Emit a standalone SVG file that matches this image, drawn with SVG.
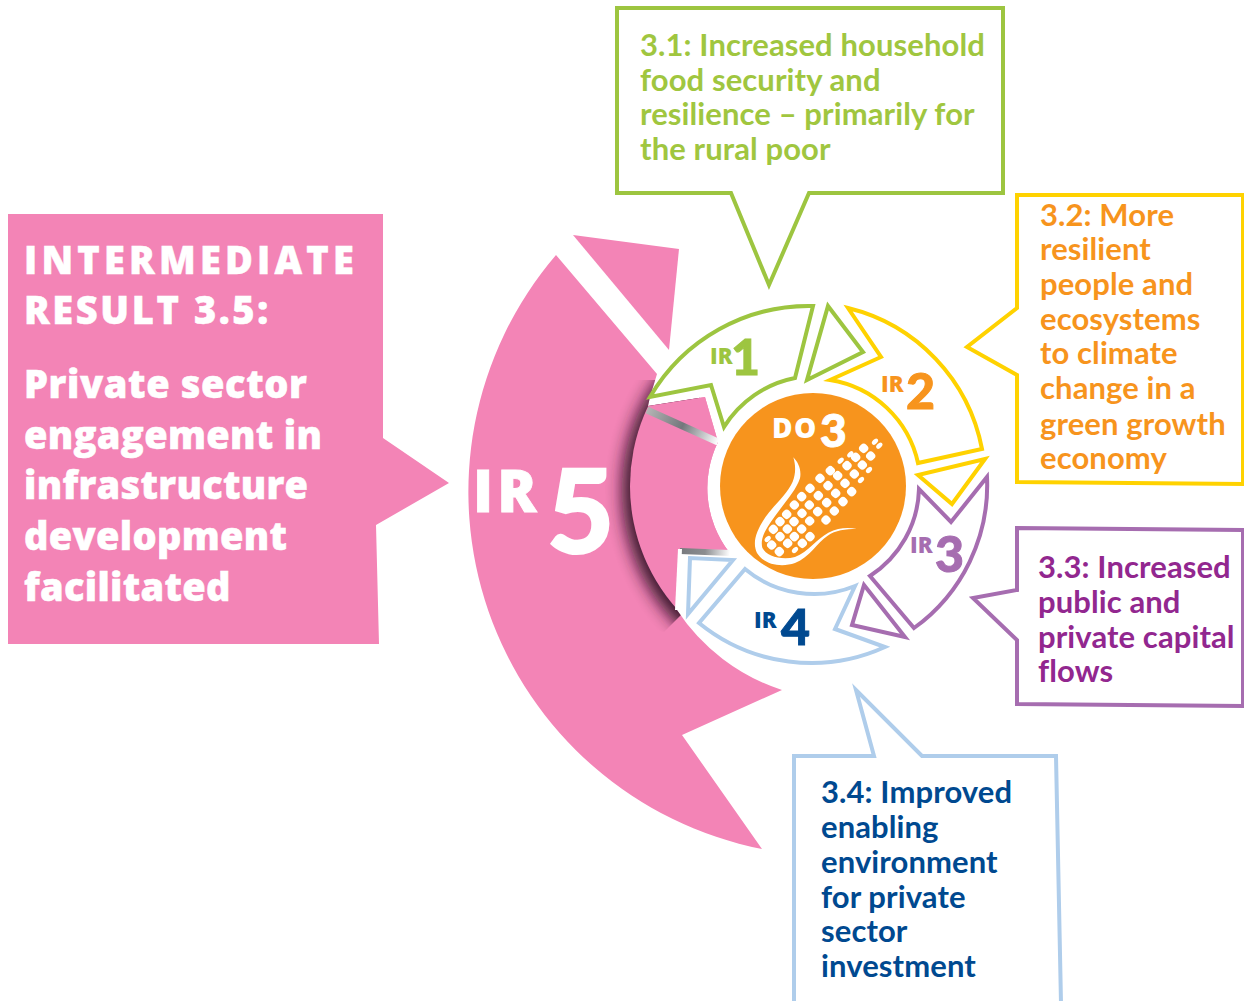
<svg xmlns="http://www.w3.org/2000/svg" width="1244" height="1001" viewBox="0 0 1244 1001">
<style>
.t{font-family:"Lato","Noto Sans",sans-serif;font-weight:700;font-size:31px;letter-spacing:.1px}
.w{font-family:"Open Sans","Noto Sans",sans-serif;font-weight:800;font-size:38px;fill:#fff;stroke:#fff;stroke-width:.5px;letter-spacing:.3px}
.box{fill:#fff;stroke-width:4}
.ring{fill:#fff;stroke-width:4;stroke-linejoin:miter}
.ir{font-family:"Open Sans","Noto Sans",sans-serif;font-weight:800;font-size:22px}
.n{font-family:"Lato","Noto Sans",sans-serif;font-weight:900;font-size:50px;stroke-width:1px}
.gr{stroke:#9DC540}.ye{stroke:#FFD200}.pu{stroke:#A66DB0}.bl{stroke:#AFCDEB}
</style>
<defs>
<path id="sw" d="M556,255 A364,364 0 0 0 762,849 L682,735 L782,690 A200,200 0 0 1 677,610 L680,549 L729,552 A105,105 0 0 1 718,442 L705,397 L648,406 L650,397 L657,374 Z"/>
<clipPath id="swc"><use href="#sw"/></clipPath>
<clipPath id="shc"><path d="M590,380 H700 V600 L682,614 L664,632 L600,620 Z"/></clipPath>
<filter id="bl" x="-20%" y="-20%" width="140%" height="140%"><feGaussianBlur stdDeviation="8"/></filter>
<linearGradient id="g1" gradientUnits="userSpaceOnUse" x1="647" y1="410" x2="718" y2="442"><stop offset="0" stop-color="#b5b5b5"/><stop offset=".5" stop-color="#74777c"/><stop offset="1" stop-color="#fff"/></linearGradient>
<linearGradient id="g2" gradientUnits="userSpaceOnUse" x1="680" y1="550" x2="730" y2="553"><stop offset="0" stop-color="#77797d"/><stop offset=".5" stop-color="#8b8d90"/><stop offset="1" stop-color="#fff"/></linearGradient>
<rect id="k" x="-13" y="-13" width="26" height="26" rx="11" transform="rotate(45)" fill="#fff"/>
<ellipse id="s" rx="11" ry="7" transform="rotate(-45)" fill="#fff"/>
</defs>

<g id="ir5">
<use href="#sw" fill="#F384B6"/>
<path d="M573,235 L679,249 L669,350 Z" fill="#F384B6"/>
<g clip-path="url(#swc)">
<g clip-path="url(#shc)">
<circle cx="813" cy="490" r="191" fill="#2a0c20" opacity=".9" filter="url(#bl)"/>
</g>
<circle cx="815" cy="486" r="185" fill="#F384B6"/>
</g>
<path d="M647,410 L718,442" stroke="url(#g1)" stroke-width="7" fill="none"/>
<path d="M680,551 L730,553" stroke="url(#g2)" stroke-width="6" fill="none"/>
<path d="M680,549 L677,610" stroke="#fff" stroke-width="4" fill="none"/>
<text x="473" y="512" font-family="Open Sans,sans-serif" font-weight="800" font-size="58" letter-spacing="4" fill="#fff" stroke="#fff" stroke-width=".8">IR</text>
<text x="547" y="553" font-family="Lato,sans-serif" font-weight="900" font-size="116" fill="#fff" stroke="#fff" stroke-width="2">5</text>
</g>

<g id="callout-35">
<path d="M8,214 H383 V438 L449,483 L376,525 L379,644 H8 Z" fill="#F384B6"/>
<text class="w" x="24" y="274" letter-spacing="4.2" style="letter-spacing:4.2px">INTERMEDIATE</text>
<text class="w" x="24" y="324" style="letter-spacing:2.6px">RESULT 3.5:</text>
<text class="w" x="24" y="398" style="letter-spacing:.6px">Private sector</text>
<text class="w" x="24" y="449">engagement in</text>
<text class="w" x="24" y="499">infrastructure</text>
<text class="w" x="24" y="550">development</text>
<text class="w" x="24" y="601">facilitated</text>
</g>

<g id="callout-31">
<path class="box gr" d="M617,8 H1003 V193 H809 L769,285 L731,193 H617 Z"/>
<g class="t" fill="#A0C63F">
<text x="640" y="56">3.1: Increased household</text>
<text x="640" y="91">food security and</text>
<text x="640" y="125">resilience – primarily for</text>
<text x="640" y="160">the rural poor</text>
</g>
</g>

<g id="callout-32">
<path class="box ye" d="M1017,195 H1243 V484 L1017,482 V375 L967,347 L1017,308 Z"/>
<g class="t" fill="#F7941D">
<text x="1040" y="226">3.2: More</text>
<text x="1040" y="260">resilient</text>
<text x="1040" y="295">people and</text>
<text x="1040" y="330">ecosystems</text>
<text x="1040" y="364">to climate</text>
<text x="1040" y="399">change in a</text>
<text x="1040" y="435">green growth</text>
<text x="1040" y="469">economy</text>
</g>
</g>

<g id="callout-33">
<path class="box pu" d="M1017,528 L1243,530 V706 L1017,704 V640 L973,598 L1017,590 Z"/>
<g class="t" fill="#92278F">
<text x="1038" y="578">3.3: Increased</text>
<text x="1038" y="613">public and</text>
<text x="1038" y="648">private capital</text>
<text x="1038" y="682">flows</text>
</g>
</g>

<g id="callout-34">
<path class="box bl" d="M794,1003 V756 H874 L856,690 L922,756 H1056 L1061,1003"/>
<g class="t" fill="#004990">
<text x="821" y="803">3.4: Improved</text>
<text x="821" y="838">enabling</text>
<text x="821" y="873">environment</text>
<text x="821" y="908">for private</text>
<text x="821" y="942">sector</text>
<text x="821" y="977">investment</text>
</g>
</g>

<g id="ir1">
<path class="ring gr" d="M650,397 A184,184 0 0 1 813,306 L795,378 A108,108 0 0 0 724,427 L711,385 Z"/>
<path class="ring gr" d="M828,306 L863,352 L807,380 Z"/>
<text class="ir" x="710" y="364" fill="#9DC540">IR</text>
<text class="n" x="731" y="375" fill="#9DC540" stroke="#9DC540">1</text>
</g>
<g id="ir2">
<path class="ring ye" d="M848,308 A180,180 0 0 1 982,449 L918,463 A107,107 0 0 0 830,380 L881,357 Z"/>
<path class="ring ye" d="M985,459 L952,504 L918,475 Z"/>
<text class="ir" x="881" y="392" fill="#F7941D">IR</text>
<text class="n" x="906" y="409" fill="#F7941D" stroke="#F7941D">2</text>
</g>
<g id="ir3">
<path class="ring pu" d="M987,477 A176,176 0 0 1 914,628 L870,576 A107,107 0 0 0 919,489 L951,522 Z"/>
<path class="ring pu" d="M864,585 L905,637 L852,625 Z"/>
<text class="ir" x="910" y="553" fill="#A66DB0">IR</text>
<text class="n" x="935" y="572" fill="#A66DB0" stroke="#A66DB0">3</text>
</g>
<g id="ir4">
<path class="ring bl" d="M885,647 A178,178 0 0 1 699,623 L745,569 A108,108 0 0 0 855,586 L835,629 Z"/>
<path class="ring bl" d="M733,560 L688,614 L690,558 Z"/>
<text class="ir" x="754" y="628" fill="#004990">IR</text>
<text class="n" x="781" y="645" fill="#004990" stroke="#004990">4</text>
</g>

<g id="do3">
<circle cx="813" cy="486" r="93" fill="#F7941D"/>
<text x="772" y="438" font-family="Open Sans,sans-serif" font-weight="800" font-size="28" letter-spacing="1.5" fill="#fff">DO</text>
<text x="820" y="447" font-family="Lato,sans-serif" font-weight="900" font-size="46" fill="#fff" stroke="#fff">3</text>
<g transform="translate(745 425) scale(.3333)">
<path fill="#fff" d="M145,97 C160,112 170,135 165,160 C152,200 112,240 78,290 C56,322 46,345 52,368 C64,394 110,406 150,396 C190,380 215,342 250,323 C280,308 310,306 335,312 C300,312 272,316 248,332 C215,355 195,395 150,414 C110,428 58,420 36,384 C20,350 36,315 62,275 C92,235 128,205 143,170 C153,145 152,120 145,97 Z"/>
<g>
<use href="#s" x="390" y="50"/><use href="#s" x="403" y="62"/>
<use href="#k" x="356" y="70"/><use href="#k" x="377" y="93"/><use href="#k" x="332" y="97"/><use href="#k" x="352" y="120"/><use href="#s" x="372" y="135"/>
<use href="#k" x="306" y="122"/><use href="#k" x="328" y="147"/><use href="#s" x="348" y="165"/><use href="#s" x="287" y="107"/><use href="#s" x="316" y="88"/>
<use href="#k" x="256" y="137"/><use href="#k" x="278" y="152"/><use href="#k" x="300" y="175"/><use href="#k" x="320" y="200"/>
<use href="#k" x="225" y="160"/><use href="#k" x="249" y="182"/><use href="#k" x="272" y="205"/><use href="#k" x="294" y="230"/>
<use href="#k" x="195" y="190"/><use href="#k" x="220" y="212"/><use href="#k" x="245" y="233"/><use href="#k" x="268" y="258"/>
<use href="#k" x="170" y="215"/><use href="#k" x="193" y="240"/><use href="#k" x="218" y="260"/><use href="#k" x="243" y="285"/>
<use href="#k" x="148" y="240"/><use href="#k" x="171" y="265"/><use href="#k" x="194" y="288"/>
<use href="#k" x="125" y="268"/><use href="#k" x="147" y="290"/><use href="#k" x="170" y="312"/><use href="#k" x="195" y="335"/>
<use href="#k" x="105" y="290"/><use href="#k" x="127" y="312"/><use href="#k" x="148" y="335"/><use href="#k" x="172" y="355"/>
<use href="#k" x="85" y="313"/><use href="#k" x="105" y="335"/><use href="#k" x="128" y="355"/><use href="#s" x="150" y="375"/>
<use href="#k" x="80" y="360"/><use href="#k" x="103" y="380"/><use href="#s" x="68" y="342"/>
</g>
</g>
</g>
</svg>
